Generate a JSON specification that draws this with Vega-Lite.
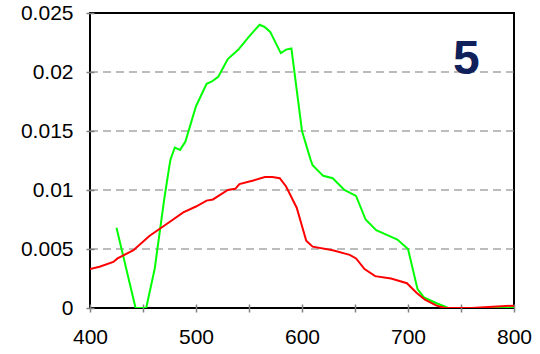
{
  "$schema": "https://vega.github.io/schema/vega-lite/v6.json",
  "autosize": {"type": "none"},
  "width": 424,
  "height": 295,
  "padding": {"left": 90, "top": 13, "right": 26, "bottom": 46},
  "background": "white",
  "config": {
    "view": {"stroke": "black", "strokeWidth": 2},
    "font": "Liberation Sans"
  },
  "datasets": {
    "spectra": [
      {"s": "green", "wl": 425, "v": 0.0068},
      {"s": "green", "wl": 443, "v": 0},
      {"s": "green", "wl": 453, "v": 0},
      {"s": "green", "wl": 461, "v": 0.0033},
      {"s": "green", "wl": 470, "v": 0.0092},
      {"s": "green", "wl": 475, "v": 0.0121},
      {"s": "green", "wl": 476, "v": 0.0126},
      {"s": "green", "wl": 480, "v": 0.0136},
      {"s": "green", "wl": 485, "v": 0.0134},
      {"s": "green", "wl": 490, "v": 0.0141},
      {"s": "green", "wl": 500, "v": 0.0171},
      {"s": "green", "wl": 510, "v": 0.0190},
      {"s": "green", "wl": 515, "v": 0.0192},
      {"s": "green", "wl": 521, "v": 0.0196},
      {"s": "green", "wl": 530, "v": 0.0211},
      {"s": "green", "wl": 540, "v": 0.0219},
      {"s": "green", "wl": 549, "v": 0.0229},
      {"s": "green", "wl": 555, "v": 0.0235},
      {"s": "green", "wl": 560, "v": 0.0240},
      {"s": "green", "wl": 565, "v": 0.0238},
      {"s": "green", "wl": 570, "v": 0.0234},
      {"s": "green", "wl": 580, "v": 0.0216},
      {"s": "green", "wl": 585, "v": 0.0219},
      {"s": "green", "wl": 590, "v": 0.0220},
      {"s": "green", "wl": 600, "v": 0.0150},
      {"s": "green", "wl": 608, "v": 0.0126},
      {"s": "green", "wl": 610, "v": 0.0121},
      {"s": "green", "wl": 620, "v": 0.0112},
      {"s": "green", "wl": 629, "v": 0.0110},
      {"s": "green", "wl": 640, "v": 0.0100},
      {"s": "green", "wl": 651, "v": 0.0095},
      {"s": "green", "wl": 660, "v": 0.0075},
      {"s": "green", "wl": 670, "v": 0.0066},
      {"s": "green", "wl": 680, "v": 0.0062},
      {"s": "green", "wl": 690, "v": 0.0058},
      {"s": "green", "wl": 700, "v": 0.0050},
      {"s": "green", "wl": 709, "v": 0.0016},
      {"s": "green", "wl": 715, "v": 0.0009},
      {"s": "green", "wl": 727, "v": 0.0004},
      {"s": "green", "wl": 738, "v": 0},
      {"s": "green", "wl": 760, "v": 0},
      {"s": "green", "wl": 800, "v": 0},
      {"s": "red", "wl": 400, "v": 0.0033},
      {"s": "red", "wl": 409, "v": 0.0035},
      {"s": "red", "wl": 422, "v": 0.0039},
      {"s": "red", "wl": 426, "v": 0.0042},
      {"s": "red", "wl": 441, "v": 0.0049},
      {"s": "red", "wl": 456, "v": 0.0061},
      {"s": "red", "wl": 472, "v": 0.0071},
      {"s": "red", "wl": 488, "v": 0.0081},
      {"s": "red", "wl": 500, "v": 0.0086},
      {"s": "red", "wl": 510, "v": 0.0091},
      {"s": "red", "wl": 516, "v": 0.0092},
      {"s": "red", "wl": 530, "v": 0.0100},
      {"s": "red", "wl": 537, "v": 0.0101},
      {"s": "red", "wl": 541, "v": 0.0105},
      {"s": "red", "wl": 554, "v": 0.0108},
      {"s": "red", "wl": 565, "v": 0.0111},
      {"s": "red", "wl": 572, "v": 0.0111},
      {"s": "red", "wl": 579, "v": 0.0110},
      {"s": "red", "wl": 585, "v": 0.0103},
      {"s": "red", "wl": 595, "v": 0.0085},
      {"s": "red", "wl": 604, "v": 0.0057},
      {"s": "red", "wl": 610, "v": 0.0052},
      {"s": "red", "wl": 629, "v": 0.0049},
      {"s": "red", "wl": 645, "v": 0.0045},
      {"s": "red", "wl": 651, "v": 0.0042},
      {"s": "red", "wl": 659, "v": 0.0033},
      {"s": "red", "wl": 669, "v": 0.0027},
      {"s": "red", "wl": 684, "v": 0.0025},
      {"s": "red", "wl": 699, "v": 0.0021},
      {"s": "red", "wl": 708, "v": 0.0013},
      {"s": "red", "wl": 716, "v": 0.0007},
      {"s": "red", "wl": 727, "v": 0.0002},
      {"s": "red", "wl": 735, "v": 0},
      {"s": "red", "wl": 760, "v": 0},
      {"s": "red", "wl": 780, "v": 0.0001},
      {"s": "red", "wl": 800, "v": 0.0002}
    ],
    "grid": [{"g": 0.005}, {"g": 0.01}, {"g": 0.015}, {"g": 0.02}],
    "label": [{"wl": 755, "v": 0.0210, "t": "5"}]
  },
  "layer": [
    {
      "data": {"name": "grid"},
      "mark": {"type": "rule", "color": "#7a7a7a", "strokeWidth": 1.2, "strokeDash": [8, 5]},
      "encoding": {
        "y": {
          "field": "g", "type": "quantitative",
          "scale": {"domain": [0, 0.025], "nice": false, "zero": true},
          "axis": {
            "values": [0, 0.0025, 0.005, 0.0075, 0.01, 0.0125, 0.015, 0.0175, 0.02, 0.0225, 0.025],
            "labelExpr": "round(datum.value*400) % 2 == 0 ? format(datum.value, '~g') : ''",
            "title": null, "grid": false, "domain": false,
            "offset": -4, "tickSize": 8, "tickColor": "#808080", "tickWidth": 1.5,
            "labelPadding": 13, "labelFontSize": 21, "labelColor": "black",
            "labelFont": "Liberation Sans"
          }
        }
      }
    },
    {
      "data": {"name": "spectra"},
      "transform": [{"filter": "datum.s == 'green'"}],
      "mark": {"type": "line", "color": "#00ff00", "strokeWidth": 2, "clip": true},
      "encoding": {
        "x": {
          "field": "wl", "type": "quantitative",
          "scale": {"domain": [400, 800], "nice": false, "zero": false},
          "axis": {
            "values": [400, 450, 500, 550, 600, 650, 700, 750, 800],
            "labelExpr": "datum.value % 100 == 0 ? datum.label : ''",
            "title": null, "grid": false, "domain": false,
            "offset": -4, "tickSize": 8, "tickColor": "#808080", "tickWidth": 1.5,
            "labelPadding": 14, "labelFontSize": 21, "labelColor": "black",
            "labelFont": "Liberation Sans", "labelFlush": false
          }
        },
        "y": {"field": "v", "type": "quantitative"}
      }
    },
    {
      "data": {"name": "spectra"},
      "transform": [{"filter": "datum.s == 'red'"}],
      "mark": {"type": "line", "color": "#ff0000", "strokeWidth": 2, "clip": true},
      "encoding": {
        "x": {"field": "wl", "type": "quantitative"},
        "y": {"field": "v", "type": "quantitative"}
      }
    },
    {
      "data": {"name": "label"},
      "mark": {"type": "text", "fontSize": 48, "fontWeight": "bold", "color": "#10205a", "font": "Liberation Sans", "baseline": "middle", "align": "center"},
      "encoding": {
        "x": {"field": "wl", "type": "quantitative"},
        "y": {"field": "v", "type": "quantitative"},
        "text": {"field": "t"}
      }
    }
  ]
}
